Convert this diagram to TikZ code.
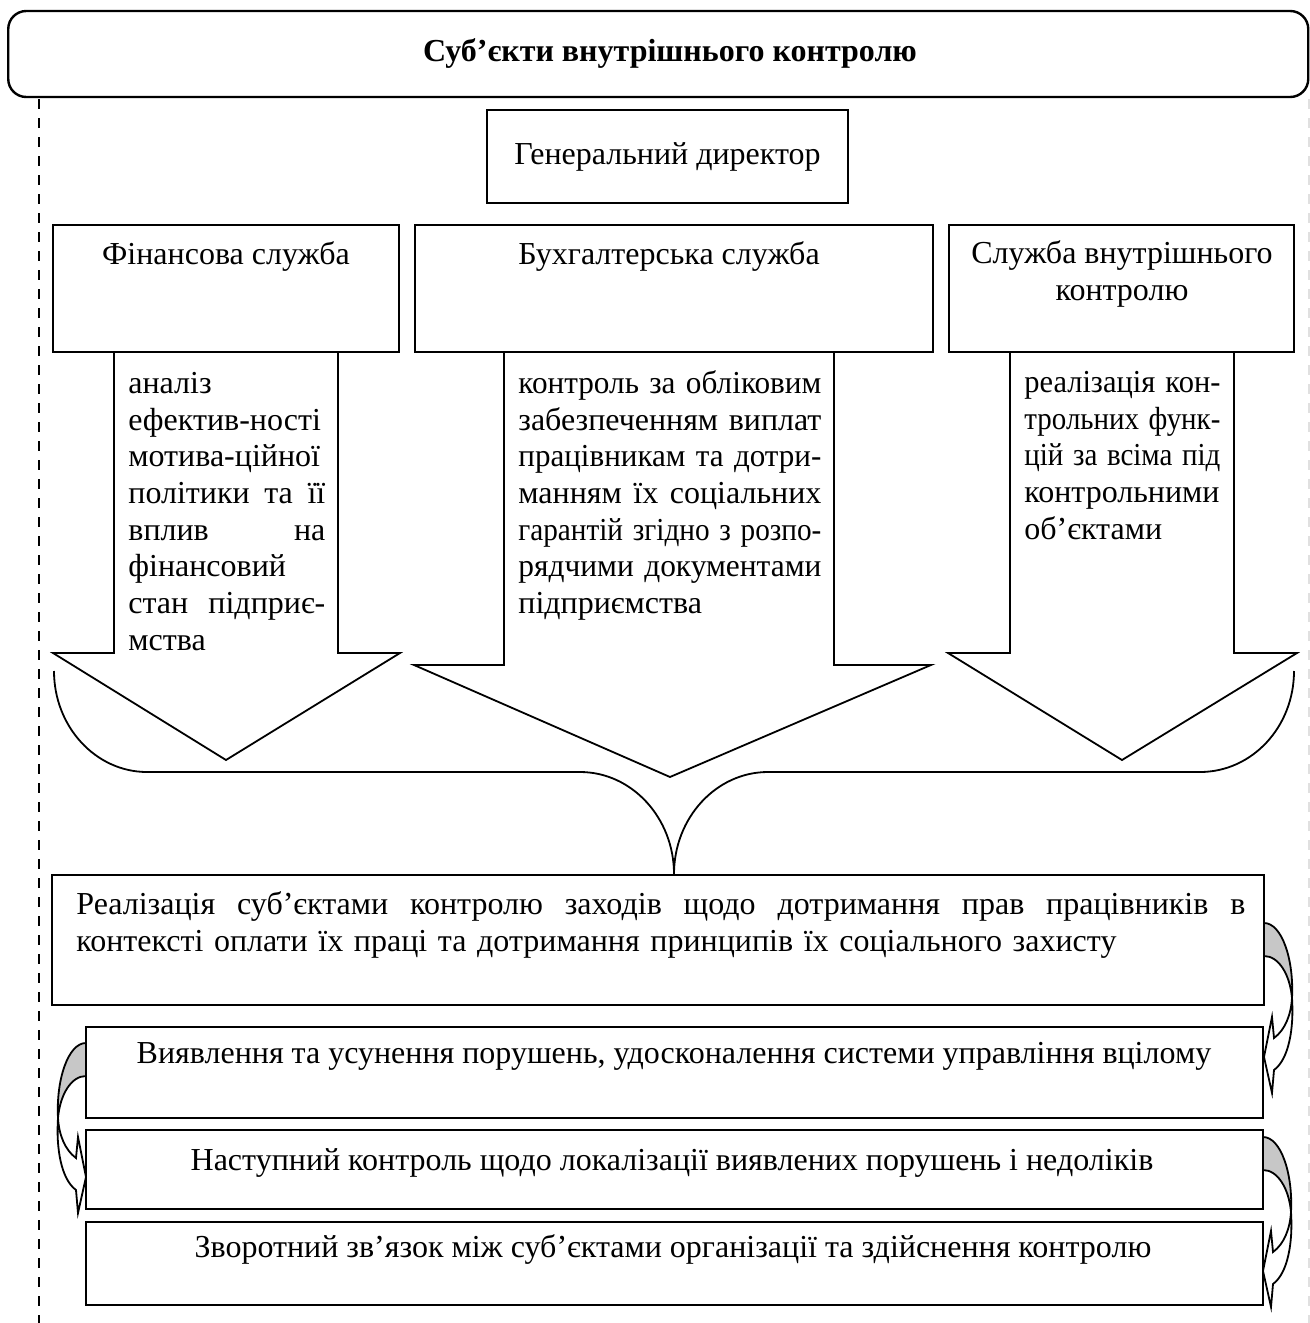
\documentclass[tikz,border=0pt]{standalone}
\usepackage{fontspec}
\usepackage{graphicx}
\setmainfont{Liberation Serif}
\usetikzlibrary{calc}

\newcommand\mainsize{\fontsize{16}{18.35}\selectfont}
\newcommand\topstrut{\vrule width 0pt height 12.8pt\relax}
% one justified line of a column: spaces stretch, too long a line is narrowed
\newsavebox\jlinebox
\newcommand\jline[1]{\leavevmode\sbox\jlinebox{#1}%
  \ifdim\wd\jlinebox>\hsize\resizebox{\hsize}{\height}{#1}%
  \else\hbox to \hsize{\spaceskip=\fontdimen2\font plus 1fil\relax #1}\fi}

% curved return arrow: grey back part, white front part with head
\newcommand\bendarrow[2]{%
  \begin{scope}[shift={#1}, xscale=#2]
    \path[bendback] (0,0) .. controls (18,0) and (30,37) .. (28,75)
       .. controls (26,52) and (15,33) .. (0,33) -- cycle;
    \path[bendfront] (28,75) .. controls (27,92) and (21,107) .. (10,115)
       -- (8,94) -- (0,134) -- (8,170) -- (10,147)
       .. controls (25,136) and (30,105) .. (28,75) -- cycle;
  \end{scope}}

\begin{document}
\begin{tikzpicture}[x=0.5pt, y=-0.5pt, line join=miter,
  frame/.style={draw, line width=1pt, inner sep=0pt, outer sep=0pt, rectangle},
  titlebox/.style={draw, line width=1.2pt, rounded corners=9pt, inner sep=0pt},
  blockarr/.style={draw, fill=white, line width=0.9pt},
  brace/.style={draw, line width=0.9pt},
  para/.style={anchor=north west, inner sep=0pt, align=left, font=\mainsize},
  lbl/.style={anchor=base, inner sep=0pt, font=\mainsize},
  bendback/.style={draw, fill=black!22, line width=0.9pt},
  bendfront/.style={draw, fill=white, line width=0.9pt},
  border/.style={line width=1.2pt, dash pattern=on 5pt off 4.5pt}]

\useasboundingbox (0,0) rectangle (1310,1323);

% dashed side rules
\draw[border] (39,99) -- (39,1323);
\draw[border, black!12] (1309,99) -- (1309,1323);

% header
\node[titlebox, minimum width=650pt, minimum height=43pt] (subj) at (658.25,54) {};
\node[lbl, font=\mainsize\bfseries] (subjt) at (670,61) {Суб’єкти внутрішнього контролю};

% brace gathering the three services
\draw[brace] (54,671) .. controls (54,727) and (96,772) .. (147,772)
  -- (580,772) .. controls (632,772) and (674,818) .. (674,874)
  .. controls (674,818) and (716,772) .. (768,772)
  -- (1200,772) .. controls (1252,772) and (1294,727) .. (1294,671);

% block arrows below the services
\draw[blockarr] (114,352) -- (114,653) -- (53,653) -- (226,760) -- (400,653) -- (338,653) -- (338,352);
\draw[blockarr] (504,352) -- (504,665) -- (414,665) -- (670,777) -- (931,665) -- (834,665) -- (834,352);
\draw[blockarr] (1010,352) -- (1010,653) -- (948,653) -- (1122,760) -- (1297,653) -- (1234,653) -- (1234,352);

% boxes
\node[frame, minimum width=180.5pt, minimum height=46.5pt, font=\mainsize] (gd) at (667.5,156.5) {Генеральний директор};
\node[frame, minimum width=173pt, minimum height=63.5pt] (fin) at (226,288.5) {};
\node[frame, minimum width=259pt, minimum height=63.5pt] (buh) at (674,288.5) {};
\node[frame, minimum width=172.5pt, minimum height=63.5pt] (svk) at (1121.5,288.5) {};
\node[lbl] (fint) at (226,264) {Фінансова служба};
\node[lbl] (buht) at (669,264) {Бухгалтерська служба};
\node[lbl, align=center] (svkt) at (1122,300) {Служба внутрішнього\\контролю};

% texts inside the block arrows
\node[para, text width=98.5pt] (find) at (128,367.4) {\topstrut аналіз\\
\jline{ефектив-ності}\\ \jline{мотива-ційної}\\ \jline{політики та її}\\ \jline{вплив на}\\
фінансовий\\ \jline{стан підприє-}\\ мства};
\node[para, text width=151.5pt] (buhd) at (518,367.4) {\topstrut\jline{контроль за обліковим}\\
\jline{забезпеченням виплат}\\ \jline{працівникам та дотри-}\\ \jline{манням їх соціальних}\\
\jline{гарантій згідно з розпо-}\\ \jline{рядчими документами}\\ підприємства};
\node[para, text width=98pt] (svkd) at (1024,366.4) {\topstrut\jline{реалізація кон-}\\
\jline{трольних функ-}\\ \jline{цій за всіма під}\\ контрольними\\ об’єктами};

% lower chain of boxes
\node[frame, minimum width=606pt, minimum height=65pt] (r1) at (658,940) {};
\node[frame, minimum width=588.5pt, minimum height=45.5pt] (r2) at (674.5,1072.5) {};
\node[frame, minimum width=588.5pt, minimum height=39.5pt] (r3) at (674.5,1169.5) {};
\node[frame, minimum width=588.5pt, minimum height=41.5pt] (r4) at (674.5,1263.5) {};

\node[para, text width=584.5pt] (r1t) at (76,888.4) {\topstrut\jline{Реалізація суб’єктами контролю заходів щодо дотримання прав працівників в}\\
контексті оплати їх праці та дотримання принципів їх соціального захисту};
\node[lbl] (r2t) at (674,1063) {Виявлення та усунення порушень, удосконалення системи управління вцілому};
\node[lbl] (r3t) at (672,1170) {Наступний контроль щодо локалізації виявлених порушень і недоліків};
\node[lbl] (r4t) at (673,1257) {Зворотний зв’язок між суб’єктами організації та здійснення контролю};

% return arrows between consecutive boxes
\bendarrow{($(r1.north east)+(0,48)$)}{1}
\bendarrow{($(r2.north west)+(0,16)$)}{-1}
\bendarrow{($(r3.north east)+(0,7)$)}{1}

\end{tikzpicture}
\end{document}
